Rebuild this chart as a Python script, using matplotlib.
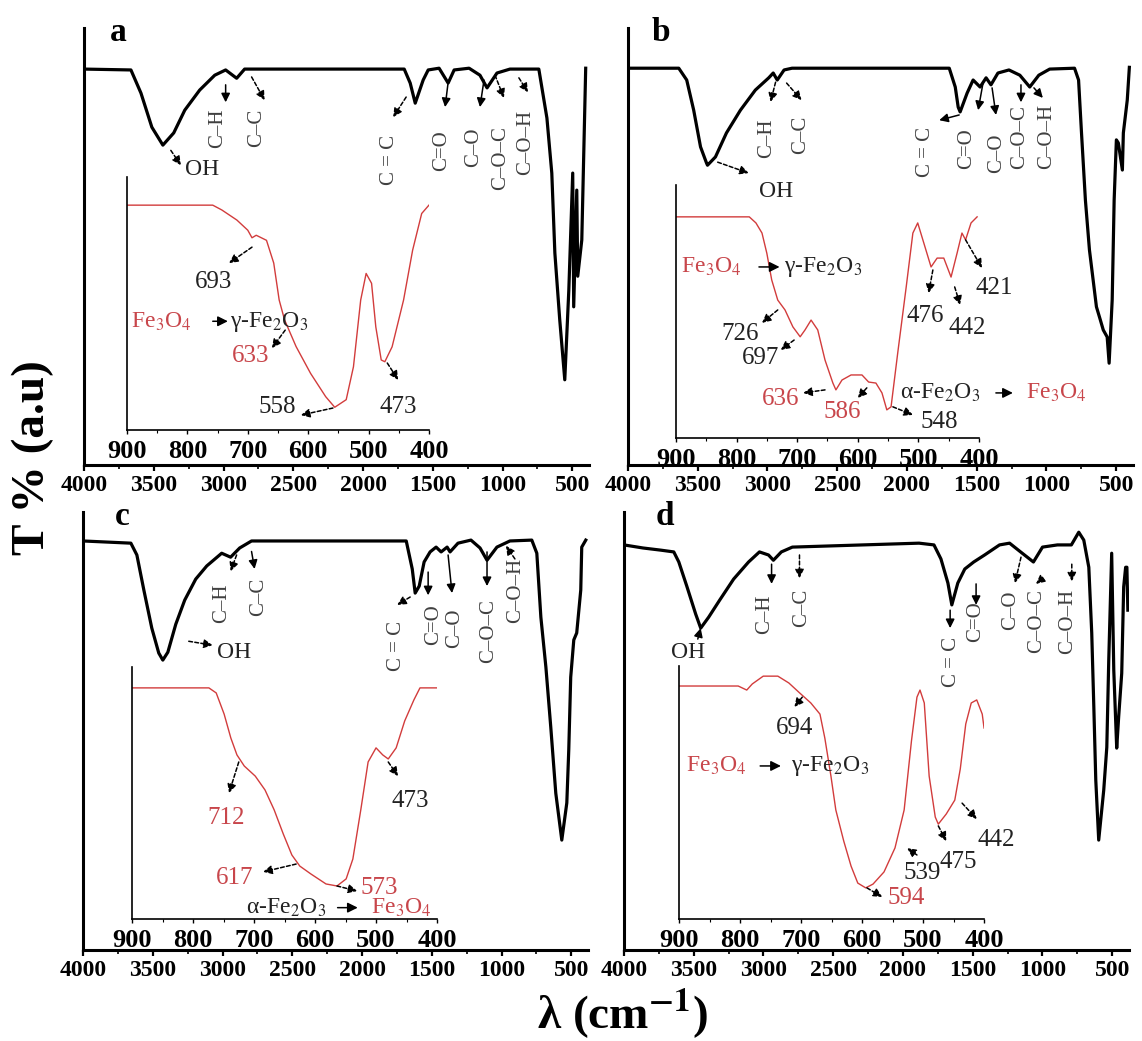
import matplotlib.pyplot as plt
from matplotlib.ticker import MultipleLocator

plt.rcParams['font.family'] = ['Liberation Serif', 'DejaVu Serif']
plt.rcParams['mathtext.fontset'] = 'stix'

RED = '#c8464b'
LINE_RED = '#d23c3c'
BOND = '#404040'
FE3O4 = 'Fe$_3$O$_4$'
GFE2O3 = '\u03b3-Fe$_2$O$_3$'
AFE2O3 = '\u03b1-Fe$_2$O$_3$'

# ---- panel a ----
wn_a = [4000, 3664, 3592, 3514, 3435, 3357, 3278, 3171, 3063, 2985,
        2906, 2849, 1705, 1662, 1626, 1569, 1533, 1455, 1390, 1347,
        1240, 1162, 1111, 1040, 947, 740, 682, 647, 625, 590,
        554, 525, 497, 490, 468, 461, 432, 404]
t_a = [90.6, 90.4, 85.1, 77.3, 73.2, 76.0, 81.2, 85.8, 89.2, 90.4,
       88.5, 90.6, 90.6, 87.4, 82.8, 88.1, 90.4, 90.8, 87.4, 90.4,
       90.8, 89.2, 86.3, 89.7, 90.6, 90.6, 79.4, 66.8, 48.5, 33.2,
       19.5, 40, 66.8, 36.2, 62.9, 43.2, 51.5, 90.8]
wi_a = [900, 758, 743, 718, 700, 693, 686, 669, 657, 648, 639, 620, 596, 571,
        556, 537, 525, 513, 504, 495, 488, 479, 473, 461, 442, 427, 412, 400]
ti_a = [88.9, 88.9, 87, 83, 79, 76, 77, 75, 66, 51.4, 43.5, 33, 22.4, 13.2,
        9, 12, 25, 51.4, 61.9, 58, 40.8, 27.7, 27, 32.9, 51.4, 71.1, 85.6, 88.9]

# ---- panel b ----
wn_b = [4000, 3636, 3579, 3529, 3480, 3437, 3430, 3373, 3294, 3194,
        3087, 2991, 2959, 2930, 2881, 2824, 1697, 1654, 1633, 1619,
        1569, 1526, 1476, 1433, 1398, 1348, 1269, 1191, 1120, 1055,
        977, 799, 770, 749, 721, 692, 642, 614, 593, 565,
        551, 529, 515, 499, 485, 456, 449, 421, 406]
t_b = [90.8, 90.8, 88.1, 81.2, 72.8, 69.1, 68.6, 70.5, 76, 81.2,
       85.8, 88.6, 89.7, 88.1, 90.4, 90.8, 90.8, 86.5, 81.9, 80.8,
       85.1, 88.1, 86.5, 88.6, 87, 89.7, 90.4, 89.2, 86.5, 89.2,
       90.6, 90.8, 88.1, 76, 60.6, 49.2, 36.2, 33.2, 30.9, 29.3,
       23.3, 37.8, 60.6, 74.4, 73.7, 67.5, 76, 83.5, 91]
wi_b = [900, 779, 768, 758, 750, 742, 732, 720, 707, 695, 687, 677, 666,
        654, 641, 636, 626, 611, 593, 582, 570, 560, 552, 545, 534, 520,
        509, 501, 491, 479, 469, 458, 446, 436, 428, 422, 413, 403]
ti_b = [87.4, 87.4, 85, 81, 73, 62.5, 54.5, 50.6, 43.9, 40, 42.7, 46.6, 42.7,
        30.8, 21.7, 19, 22.9, 24.9, 24.9, 22.1, 21.7, 17.8, 11.1, 12.3, 33.6, 59.7,
        81, 85, 77.1, 67.6, 71.1, 71.1, 63.6, 73.1, 81, 78.3, 85, 87.4]

# ---- panel c ----
wn_c = [4000, 3657, 3614, 3564, 3507, 3457, 3428, 3392, 3335, 3271,
        3192, 3113, 3006, 2942, 2877, 2792, 1683, 1640, 1619, 1590,
        1555, 1512, 1469, 1433, 1390, 1369, 1312, 1219, 1154, 1104,
        1033, 940, 783, 747, 718, 682, 647, 611, 568, 532,
        518, 504, 482, 461, 432, 425, 396]
t_c = [93.4, 92.9, 90.2, 82.2, 73.5, 67.8, 66.2, 68, 74.4, 79.9,
       84.7, 87.7, 90.6, 89.7, 91.8, 93.4, 93.4, 87, 81.5, 83.1,
       88.6, 90.9, 92, 90.9, 92, 90.9, 92.9, 93.6, 91.8, 89,
       92, 93.4, 93.6, 90.6, 76, 64.6, 50.9, 35.8, 25.1, 33.6,
       45.7, 62.3, 70.8, 72.4, 82.2, 92, 93.6]
wi_c = [900, 774, 762, 749, 738, 728, 716, 698, 682, 667, 652, 638, 625, 607,
        582, 564, 549, 538, 525, 513, 500, 489, 480, 467, 453, 438, 428, 400]
ti_c = [91.7, 91.7, 89.7, 81.3, 71.8, 65.1, 60.7, 56.7, 51.2, 43.3, 33.7, 25.4, 21, 17.9,
        13.9, 13.1, 15.9, 23.8, 43.3, 62.3, 67.9, 65.1, 63.5, 67.9, 78.6, 86.9, 91.7, 91.7]

# ---- panel d ----
wn_d = [4000, 3864, 3735, 3643, 3607, 3550, 3486, 3450, 3393, 3314,
        3214, 3107, 3029, 2964, 2929, 2872, 2793, 1885, 1778, 1728,
        1678, 1650, 1607, 1557, 1493, 1415, 1308, 1236, 1157, 1065,
        1000, 893, 793, 740, 704, 668, 647, 632, 618, 597,
        561, 539, 525, 504, 489, 468, 454, 432, 418, 404, 395, 388]
t_d = [92.5, 91.8, 91.3, 90.9, 88.6, 83.1, 76.7, 73.5, 76, 79.9,
       84.7, 88.6, 90.9, 90.2, 89, 90.9, 92, 92.9, 92.5, 89.3,
       83.8, 78.8, 83.8, 87, 88.6, 90.2, 92.5, 92.9, 90.9, 88.6,
       92, 92.5, 92.5, 95.4, 93.6, 87.4, 72.4, 55.5, 38.8, 25.1,
       36.5, 46.3, 66.2, 90.6, 63.9, 46.1, 53.2, 63.2, 82.9, 87.4, 87.4, 77.6]
wi_d = [900, 839, 803, 789, 780, 762, 738, 720, 702, 684, 669, 661, 651, 643,
        630, 618, 607, 594, 582, 564, 546, 531, 519, 510, 505, 498, 490, 480,
        475, 462, 448, 439, 430, 421, 412, 403, 400]
ti_d = [92.1, 92.1, 92.1, 90.5, 92.9, 96, 96, 93.3, 89.3, 85.4, 81, 71.5, 56.5, 43.1,
        30.8, 20.9, 14.2, 12.3, 13.8, 18.6, 28.1, 43.1, 70.4, 87.7, 90.5, 85.4, 56.5, 40.3,
        37.5, 41.5, 47, 59.3, 77.1, 85.4, 86.6, 81, 75.5]

main_ticks = [4000, 3500, 3000, 2500, 2000, 1500, 1000, 500]
inset_ticks = [900, 800, 700, 600, 500, 400]

fig = plt.figure(figsize=(11.42, 10.41), dpi=100)


def main_axes(rect, wn, t, letter, lx, ly):
    ax = fig.add_axes(rect)
    ax.plot(wn, t, color='k', lw=2.3)
    ax.set_xlim(4000, 380)
    ax.set_ylim(0, 100)
    for s in ['top', 'right']:
        ax.spines[s].set_visible(False)
    for s in ['left', 'bottom']:
        ax.spines[s].set_linewidth(2.2)
    ax.set_yticks([])
    ax.set_xticks(main_ticks)
    ax.xaxis.set_minor_locator(MultipleLocator(250))
    ax.tick_params(axis='x', which='major', direction='out', length=4, width=1.6,
                   pad=3, labelsize=17)
    ax.tick_params(axis='x', which='minor', direction='out', length=3, width=1.2)
    plt.setp(ax.get_xticklabels(), fontweight='bold')
    ax.text(lx, ly, letter, transform=ax.transAxes, fontsize=24, fontweight='bold',
            ha='center', va='center')
    return ax


def inset_axes(rect, wn, t):
    ax = fig.add_axes(rect)
    ax.patch.set_visible(False)
    ax.plot(wn, t, color=LINE_RED, lw=1.0)
    ax.set_xlim(900, 400)
    ax.set_ylim(0, 100)
    for s in ['top', 'right']:
        ax.spines[s].set_visible(False)
    for s in ['left', 'bottom']:
        ax.spines[s].set_linewidth(1.2)
    ax.set_yticks([])
    ax.set_xticks(inset_ticks)
    ax.xaxis.set_minor_locator(MultipleLocator(50))
    ax.tick_params(axis='x', which='major', direction='out', length=3, width=1.0,
                   pad=4, labelsize=19)
    ax.tick_params(axis='x', which='minor', direction='out', length=2, width=0.8)
    plt.setp(ax.get_xticklabels(), fontweight='bold')
    return ax


def arrow(ax, tail, head, dashed=True, ms=13):
    ax.annotate('', xy=head, xytext=tail, annotation_clip=False,
                arrowprops=dict(arrowstyle='-|>', color='k', lw=1.1,
                                linestyle=(0, (2.5, 1.5)) if dashed else '-',
                                shrinkA=0, shrinkB=0, mutation_scale=ms))


def bond(ax, x, y, s):
    ax.text(x, y, s, rotation=90, ha='center', va='center', fontsize=15, color=BOND)


def num(ax, x, y, s, color='#222222', size=18):
    ax.text(x, y, s, ha='center', va='center', fontsize=size, color=color)


def chem(ax, x, y, s, color, size=17):
    ax.text(x, y, s, ha='left', va='center', fontsize=size, color=color)


# ================= a =================
ax = main_axes([0.0736, 0.5533, 0.4422, 0.4198], wn_a, t_a, 'a', 0.067, 0.99)
ax.text(3275, 67.7, 'OH', fontsize=17, ha='left', va='center', color='#222222')
arrow(ax, (3378, 72), (3306, 68.6))
bond(ax, 3042, 77.1, 'C\u2013H'); arrow(ax, (2985, 87.0), (2985, 83.0), dashed=False)
bond(ax, 2763, 77.1, 'C\u2013C'); arrow(ax, (2799, 88.8), (2706, 83.5))
bond(ax, 1812, 69.8, 'C = C'); arrow(ax, (1691, 84.2), (1784, 79.6))
bond(ax, 1440, 71.9, 'C=O'); arrow(ax, (1390, 87.6), (1412, 81.9), dashed=False)
bond(ax, 1204, 72.8, 'C\u2013O'); arrow(ax, (1133, 88.1), (1162, 81.9), dashed=False)
bond(ax, 1011, 70.3, 'C\u2013O\u2013C'); arrow(ax, (1054, 89.2), (990, 84.0))
bond(ax, 832, 73.9, 'C\u2013O\u2013H'); arrow(ax, (883, 88.6), (818, 85.3))

ai = inset_axes([0.1112, 0.5869, 0.2644, 0.2430], wi_a, ti_a)
num(ai, 756, 58.5, '693'); arrow(ai, (693, 72.3), (731, 66))
chem(ai, 893, 42.7, FE3O4, RED)
arrow(ai, (758, 43), (733, 43), dashed=False, ms=15)
chem(ai, 730, 42.7, GFE2O3, '#222222')
num(ai, 695, 29.2, '633', RED); arrow(ai, (638, 39.5), (660, 32.4))
num(ai, 652, 9.1, '558'); arrow(ai, (559, 8.7), (612, 5.9))
num(ai, 450, 9.1, '473'); arrow(ai, (469, 26.5), (451, 19.8))

# ================= b =================
ax = main_axes([0.5499, 0.5533, 0.4422, 0.4198], wn_b, t_b, 'b', 0.065, 0.99)
ax.text(2942, 62.5, 'OH', fontsize=17, ha='center', va='center', color='#222222')
arrow(ax, (3357, 69.3), (3135, 66.8))
bond(ax, 3006, 74.8, 'C\u2013H'); arrow(ax, (2942, 87.6), (2978, 83.1))
bond(ax, 2763, 75.5, 'C\u2013C'); arrow(ax, (2863, 87.4), (2756, 83.5))
bond(ax, 1869, 71.6, 'C = C'); arrow(ax, (1626, 80.1), (1769, 78.9), dashed=False)
bond(ax, 1569, 72.3, 'C=O'); arrow(ax, (1455, 87.4), (1490, 81.2), dashed=False)
bond(ax, 1355, 71.4, 'C\u2013O'); arrow(ax, (1390, 86.3), (1362, 80.1), dashed=False)
bond(ax, 1190, 75.0, 'C\u2013O\u2013C'); arrow(ax, (1183, 87.0), (1183, 83.0), dashed=False)
bond(ax, 997, 75.3, 'C\u2013O\u2013H'); arrow(ax, (1090, 86.3), (1026, 84.0), dashed=False)

bi = inset_axes([0.5919, 0.5793, 0.2653, 0.2430], wi_b, ti_b)
chem(bi, 892, 67.6, FE3O4, RED)
arrow(bi, (763, 67.6), (729, 67.6), dashed=False, ms=15)
chem(bi, 722, 67.6, GFE2O3, '#222222')
num(bi, 794, 41.1, '726'); arrow(bi, (732, 50.6), (758, 45.5))
num(bi, 760, 31.6, '697'); arrow(bi, (705, 38.7), (727, 34.8))
num(bi, 728, 15.4, '636', RED); arrow(bi, (654, 19), (690, 17.8))
num(bi, 626, 10.3, '586', RED); arrow(bi, (585, 19.8), (600, 15.8))
num(bi, 466, 6.3, '548'); arrow(bi, (542, 12.3), (509, 9.1))
chem(bi, 530, 17.8, AFE2O3, '#222222')
arrow(bi, (372, 17.8), (344, 17.8), dashed=False, ms=15)
chem(bi, 322, 17.8, FE3O4, RED)
num(bi, 488, 48.2, '476'); arrow(bi, (476, 66.4), (483, 57.3))
num(bi, 420, 43.5, '442'); arrow(bi, (440, 59.7), (431, 52.6))
num(bi, 374, 59.3, '421'); arrow(bi, (422, 78.3), (395, 67.2))

# ================= c =================
ax = main_axes([0.0727, 0.0874, 0.4422, 0.4207], wn_c, t_c, 'c', 0.077, 0.99)
ax.text(2920, 68, 'OH', fontsize=17, ha='center', va='center', color='#222222')
arrow(ax, (3242, 70.5), (3071, 69.6))
bond(ax, 3006, 79.2, 'C\u2013H'); arrow(ax, (2899, 90.2), (2942, 86.5))
bond(ax, 2742, 80.6, 'C\u2013C'); arrow(ax, (2792, 91.0), (2770, 87.0), dashed=False)
bond(ax, 1755, 69.4, 'C = C'); arrow(ax, (1655, 80.6), (1748, 78.8))
bond(ax, 1490, 74.2, 'C=O'); arrow(ax, (1526, 86.3), (1526, 81), dashed=False)
bond(ax, 1333, 73.5, 'C\u2013O'); arrow(ax, (1383, 90.2), (1355, 81.5), dashed=False)
bond(ax, 1090, 72.8, 'C\u2013O\u2013C'); arrow(ax, (1104, 90.9), (1104, 83.1), dashed=False)
bond(ax, 897, 82.0, 'C\u2013O\u2013H'); arrow(ax, (904, 89.3), (968, 92.3))

ci = inset_axes([0.1156, 0.1172, 0.2671, 0.2421], wi_c, ti_c)
num(ci, 746, 40, '712', RED); arrow(ci, (725, 62.3), (741, 50))
num(ci, 444, 47, '473'); arrow(ci, (480, 62.3), (464, 56.7))
num(ci, 731, 16.3, '617', RED); arrow(ci, (631, 21.8), (685, 18.7))
num(ci, 495, 12.3, '573', RED); arrow(ci, (564, 13.1), (531, 11.1))
chem(ci, 713, 4.5, AFE2O3, '#222222')
arrow(ci, (563, 4.5), (530, 4.5), dashed=False, ms=15)
chem(ci, 509, 4.5, FE3O4, RED)

# ================= d =================
ax = main_axes([0.5464, 0.0874, 0.4422, 0.4207], wn_d, t_d, 'd', 0.081, 0.99)
ax.text(3542, 68, 'OH', fontsize=17, ha='center', va='center', color='#222222')
arrow(ax, (3471, 71.0), (3450, 73.5), dashed=False)
bond(ax, 2992, 76.7, 'C\u2013H'); arrow(ax, (2942, 88.1), (2942, 83.6), dashed=False)
bond(ax, 2727, 78.1, 'C\u2013C'); arrow(ax, (2742, 90.2), (2742, 84.9))
bond(ax, 1655, 65.8, 'C = C'); arrow(ax, (1662, 77.6), (1662, 73.5), dashed=False)
bond(ax, 1476, 74.9, 'C=O'); arrow(ax, (1476, 83.6), (1476, 78.8), dashed=False)
bond(ax, 1226, 77.6, 'C\u2013O'); arrow(ax, (1154, 89.7), (1197, 83.8))
bond(ax, 1040, 75.1, 'C\u2013O\u2013C'); arrow(ax, (997, 84.9), (1047, 83.6))
bond(ax, 818, 75.1, 'C\u2013O\u2013H'); arrow(ax, (790, 88.1), (790, 84.2))

di = inset_axes([0.5946, 0.1172, 0.2671, 0.2430], wi_d, ti_d)
num(di, 710, 75.5, '694'); arrow(di, (698, 87.7), (711, 83.8))
chem(di, 889, 60.5, FE3O4, RED)
arrow(di, (767, 60.5), (733, 60.5), dashed=False, ms=15)
chem(di, 716, 60.5, GFE2O3, '#222222')
num(di, 528, 8.3, '594', RED); arrow(di, (592, 12.3), (567, 8.7))
num(di, 502, 18.2, '539'); arrow(di, (510, 25.3), (526, 28))
num(di, 443, 22.5, '475'); arrow(di, (475, 36.8), (462, 30.8))
num(di, 380, 31.2, '442'); arrow(di, (436, 45.8), (412, 39.5))

fig.text(0.029, 0.56, 'T % (a.u)', rotation=90, fontsize=34, fontweight='bold',
         ha='center', va='center')
fig.text(0.545, 0.025, '\u03bb (cm$^{\\mathbf{-1}}$)',
         fontsize=34, fontweight='bold', ha='center', va='center')

fig.savefig('out.png', dpi=100)
